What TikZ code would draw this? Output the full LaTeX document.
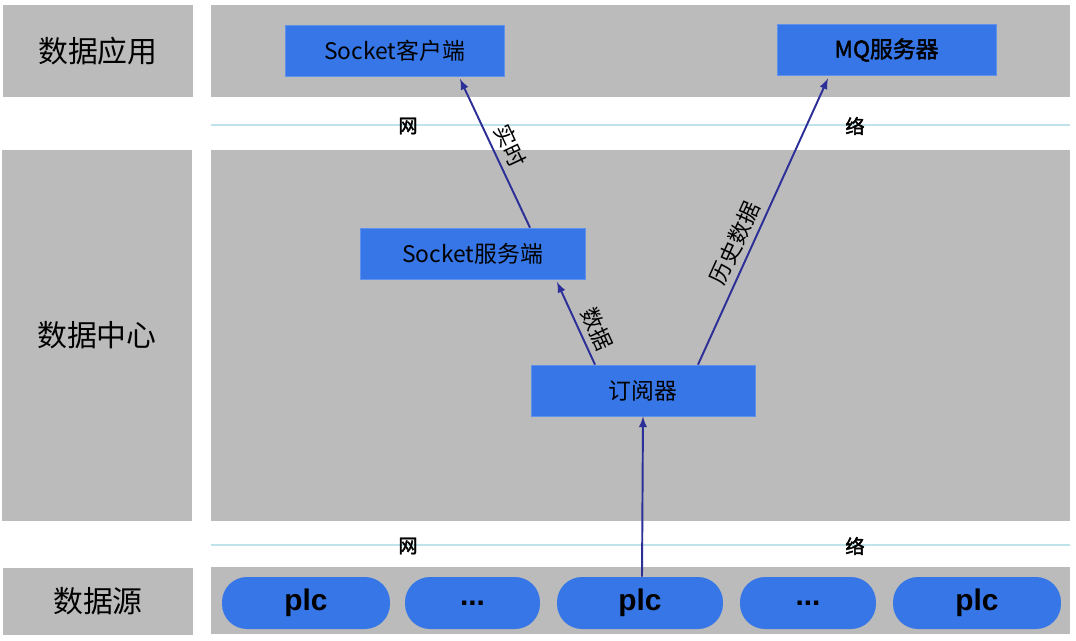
\documentclass[tikz,border=0pt]{standalone}
\usepackage{fontspec}
\setmainfont{Noto Sans CJK SC}
\newfontfamily\plcfont{Liberation Sans}
\newfontfamily\boldcjk[FakeBold=2]{Noto Sans CJK SC}
\usepackage{pgf,tikz}
\usetikzlibrary{arrows}

\definecolor{panelgray}{HTML}{BBBBBB}
\definecolor{boxblue}{HTML}{3776E6}
\definecolor{arrowblue}{HTML}{2B2F97}
\definecolor{netcyan}{HTML}{BFE3EA}

\begin{document}
\begin{tikzpicture}[x=0.02cm, y=-0.02cm,
	layer/.style={fill=panelgray, minimum width=3.8cm, inner sep=0pt, font=\fontsize{17}{17}\selectfont},
	unit/.style={fill=boxblue, draw=boxblue!80!white, inner sep=0pt, minimum height=1.02cm, font=\fontsize{13}{13}\selectfont},
	plcpill/.style={fill=boxblue, rounded corners=0.5cm, inner sep=0pt, minimum height=1.04cm, font=\plcfont\bfseries\fontsize{17}{17}\selectfont},
	flow/.style={->, >=latex, line width=1.1pt, color=arrowblue},
	tag/.style={sloped, above, text=black, font=\fontsize{12.5}{12.5}\selectfont},
	net/.style={font=\boldcjk\fontsize{11}{11}\selectfont}]
	\useasboundingbox (0,0) rectangle (1076,640);

	% layer names
	\node[layer, minimum height=1.84cm] (app) at (98,51) {数据应用};
	\node[layer, minimum height=7.42cm] (center) at (97,335.5) {数据中心};
	\node[layer, minimum height=1.34cm] (source) at (98,601.5) {数据源};

	% layer panels
	\fill[panelgray] (211,5) rectangle (1070,97);
	\fill[panelgray] (211,150) rectangle (1070,521);
	\fill[panelgray] (211,567) rectangle (1070,634);

	% network lines
	\foreach \y in {125,545} {
	\draw[netcyan, line width=0.6pt] (211,\y) -- (1070,\y);
	\node[net] at (408,\y+1) {网};
	\node[net] at (855,\y+1) {络};
	}

	% components
	\node[unit, minimum width=4.38cm] (client) at (394.5,50.5) {Socket客户端};
	\node[unit, minimum width=4.38cm, font=\boldcjk\fontsize{13}{13}\selectfont] (mq) at (886.5,50) {MQ服务器};
	\node[unit, minimum width=4.5cm] (server) at (472.5,253.5) {Socket服务端};
	\node[unit, minimum width=4.48cm] (sub) at (643,390.5) {订阅器};

	% data sources
	\node[plcpill, minimum width=3.36cm] (plcA) at (306,603) {plc};
	\node[plcpill, minimum width=2.7cm] (dotsA) at (472.5,603) {...};
	\node[plcpill, minimum width=3.32cm] (plcB) at (640,603) {plc};
	\node[plcpill, minimum width=2.72cm] (dotsB) at (808,603) {...};
	\node[plcpill, minimum width=3.36cm] (plcC) at (977,603) {plc};

	% data flow
	\draw[flow] ([xshift=0.04cm]plcB.north) -- (sub.south);
	\draw[flow] ([xshift=-0.96cm]sub.north) -- node[tag, pos=0.35] {数据} ([xshift=1.69cm, yshift=-0.05cm]server.south);
	\draw[flow] ([xshift=1.15cm]server.north) -- node[tag, pos=0.5] {实时} ([xshift=1.31cm, yshift=-0.05cm]client.south);
	\draw[flow] ([xshift=1.1cm]sub.north) -- node[tag, pos=0.4] {历史数据} ([xshift=-1.17cm, yshift=-0.05cm]mq.south);
\end{tikzpicture}
\end{document}
